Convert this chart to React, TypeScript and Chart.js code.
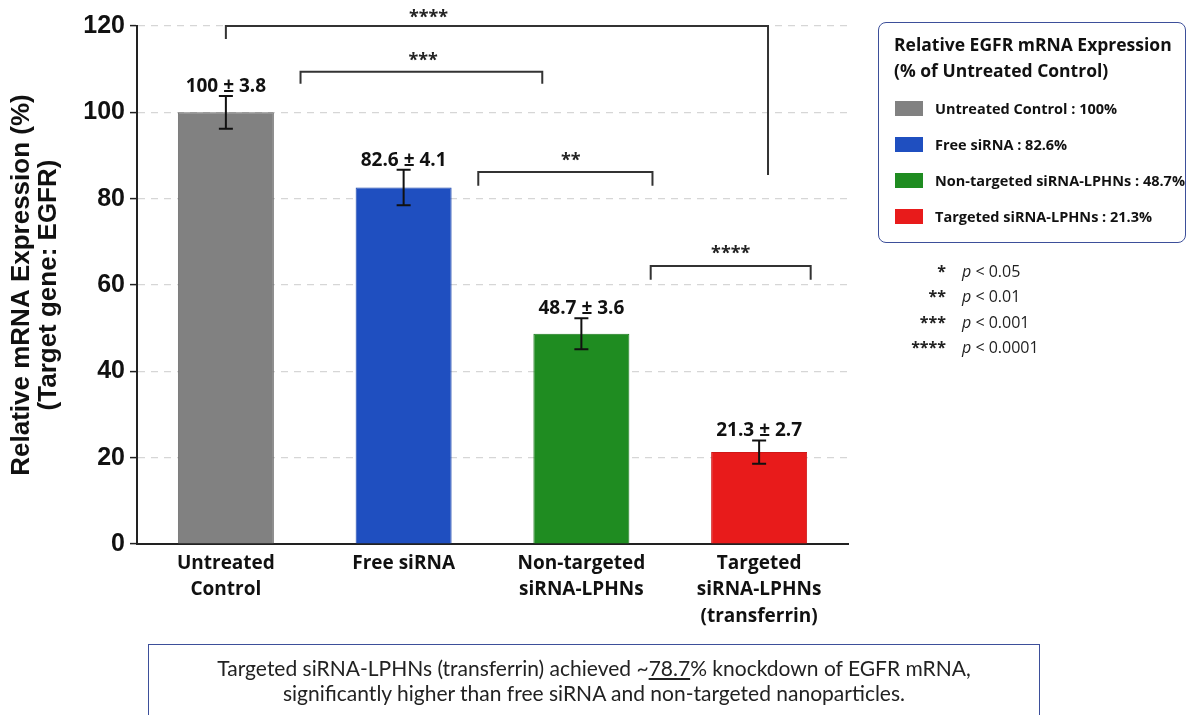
import React, { useEffect, useRef } from "react";
import { Chart, registerables } from "chart.js";

Chart.register(...registerables);

// ---------- data ----------
const categories: string[][] = [
  ["Untreated", "Control"],
  ["Free siRNA"],
  ["Non-targeted", "siRNA-LPHNs"],
  ["Targeted", "siRNA-LPHNs", "(transferrin)"],
];
const meanValues = [100, 82.6, 48.7, 21.3];
const errorValues = [3.8, 4.1, 3.6, 2.7];
const valueLabels = ["100 ± 3.8", "82.6 ± 4.1", "48.7 ± 3.6", "21.3 ± 2.7"];
const barColors = ["#818181", "#1f4fc0", "#1f8c21", "#e81b1b"];
const barBorders = ["#6b6b6b", "#1b45ab", "#1a7a1c", "#cf1717"];
const yMin = 0;
const yMax = 120;
const yStep = 20;
const yTitle = ["Relative mRNA Expression (%)", "(Target gene: EGFR)"];

const legendTitle = ["Relative EGFR mRNA Expression", "(% of Untreated Control)"];
const legendItems = [
  "Untreated Control : 100%",
  "Free siRNA : 82.6%",
  "Non-targeted siRNA-LPHNs : 48.7%",
  "Targeted siRNA-LPHNs : 21.3%",
];
const sigStars = ["*", "**", "***", "****"];
const sigThresholds = ["< 0.05", "< 0.01", "< 0.001", "< 0.0001"];

// significance brackets (x in category index units, y in data units)
const bracketFrom = [0, 0.42, 1.42, 2.39];
const bracketTo = [3.05, 1.78, 2.4, 3.29];
const bracketLevel = [120, 109.4, 86.2, 64.4];
const bracketLeftEnd = [117, 106.6, 83.0, 61.2];
const bracketRightEnd = [85.5, 106.6, 83.0, 61.2];
const bracketStars = ["****", "***", "**", "****"];
const bracketStarX = [1.14, 1.11, 1.94, 2.84];
const bracketStarY = [122.8, 112.8, 89.6, 68.1];

const footLine1a = "Targeted siRNA-LPHNs (transferrin) achieved ~";
const footUnder = "78.7";
const footLine1b = "% knockdown of EGFR mRNA,";
const footLine2 = "significantly higher than free siRNA and non-targeted nanoparticles.";

const W = 1192;
const H = 715;

const overlayPlugin = {
  id: "overlay",
  afterDatasetsDraw(chart: any) {
    const ctx = chart.ctx;
    const x = chart.scales.x;
    const y = chart.scales.y;
    ctx.save();
    // error bars + value labels
    meanValues.forEach((m, i) => {
      const cx = x.getPixelForValue(i);
      const top = y.getPixelForValue(m + errorValues[i]);
      const bot = y.getPixelForValue(m - errorValues[i]);
      ctx.strokeStyle = "#111";
      ctx.lineWidth = 2;
      ctx.beginPath();
      ctx.moveTo(cx, top);
      ctx.lineTo(cx, bot);
      ctx.moveTo(cx - 7, top);
      ctx.lineTo(cx + 7, top);
      ctx.moveTo(cx - 7, bot);
      ctx.lineTo(cx + 7, bot);
      ctx.stroke();
      ctx.fillStyle = "#111";
      ctx.font = "bold 19px 'Open Sans'";
      ctx.textAlign = "center";
      ctx.textBaseline = "alphabetic";
      ctx.fillText(valueLabels[i], cx, top - 4);
    });
    // brackets
    ctx.strokeStyle = "#333";
    ctx.lineWidth = 2;
    bracketFrom.forEach((f, i) => {
      const x1 = x.getPixelForValue(f);
      const x2 = x.getPixelForValue(bracketTo[i]);
      const yl = y.getPixelForValue(bracketLevel[i]);
      const yle = y.getPixelForValue(bracketLeftEnd[i]);
      const yre = y.getPixelForValue(bracketRightEnd[i]);
      ctx.beginPath();
      ctx.moveTo(x1, yle);
      ctx.lineTo(x1, yl);
      ctx.lineTo(x2, yl);
      ctx.lineTo(x2, yre);
      ctx.stroke();
      ctx.fillStyle = "#222";
      ctx.font = "bold 18px 'Open Sans'";
      ctx.textAlign = "center";
      ctx.textBaseline = "middle";
      ctx.fillText(
        bracketStars[i],
        x.getPixelForValue(bracketStarX[i]),
        y.getPixelForValue(bracketStarY[i]) + 4
      );
    });
    ctx.restore();
  },
};

function ChartCanvas() {
  const ref = useRef<HTMLCanvasElement | null>(null);
  useEffect(() => {
    if (!ref.current) return;
    const chart = new Chart(ref.current, {
      type: "bar",
      data: {
        labels: categories as any,
        datasets: [
          {
            data: meanValues,
            backgroundColor: barColors,
            borderColor: barBorders,
            borderWidth: 1,
            categoryPercentage: 1,
            barPercentage: 0.54,
          },
        ],
      },
      options: {
        responsive: false,
        animation: false,
        devicePixelRatio: 1,
        layout: { padding: { left: 0, top: 26, right: W - 848, bottom: 61 } },
        plugins: {
          legend: { display: false },
          tooltip: { enabled: false },
        },
        scales: {
          x: {
            grid: { display: false, drawTicks: false },
            border: { color: "#222", width: 2 },
            ticks: {
              color: "#111",
              font: { family: "'Open Sans'", size: 19, weight: "bold", lineHeight: 1.4 },
              padding: 6,
              maxRotation: 0,
              autoSkip: false,
            },
            afterFit: (s: any) => {
              s.height = 110;
            },
          },
          y: {
            min: yMin,
            max: yMax,
            ticks: {
              stepSize: yStep,
              color: "#111",
              font: { family: "'Liberation Sans'", size: 25, weight: "bold" },
              padding: 5,
            },
            grid: {
              color: "#d6d6d6",
              lineWidth: 1.2,
              tickColor: "#222",
              tickLength: 7,
              tickWidth: 1.5,
            },
            border: { color: "#222", width: 2, dash: [7, 6] },
            title: {
              display: true,
              text: yTitle,
              color: "#111",
              font: { family: "'Liberation Sans'", size: 26, weight: "bold", lineHeight: 1.05 },
              padding: { top: 8, bottom: 0 },
            },
            afterFit: (s: any) => {
              s.width = 137;
            },
          },
        },
      },
      plugins: [overlayPlugin],
    });
    return () => chart.destroy();
  }, []);
  return (
    <canvas
      ref={ref}
      width={W}
      height={H}
      style={{ position: "absolute", left: 0, top: 0, width: W, height: H }}
    />
  );
}

export default function App() {
  const sans = "'Open Sans', 'Noto Sans', sans-serif";
  return (
    <div
      style={{
        position: "absolute",
        left: 0,
        top: 0,
        width: W,
        height: H,
        overflow: "hidden",
        background: "#fff",
        fontFamily: sans,
      }}
    >
      <ChartCanvas />
      {/* legend box */}
      <div
        style={{
          position: "absolute",
          left: 878,
          top: 22,
          width: 308,
          height: 221,
          boxSizing: "border-box",
          border: "1.5px solid #3d4f9a",
          borderRadius: 8,
          color: "#111",
        }}
      >
        <div
          style={{
            position: "absolute",
            left: 15,
            top: 8,
            fontWeight: 700,
            fontSize: 17.5,
            lineHeight: "26px",
            whiteSpace: "nowrap",
          }}
        >
          {legendTitle.map((t) => (
            <div key={t}>{t}</div>
          ))}
        </div>
        {legendItems.map((t, i) => (
          <div
            key={t}
            style={{
              position: "absolute",
              left: 16,
              top: 76 + i * 36,
              height: 18,
              display: "flex",
              alignItems: "center",
              whiteSpace: "nowrap",
            }}
          >
            <span
              style={{
                display: "inline-block",
                width: 28,
                height: 15,
                background: barColors[i],
                marginRight: 12,
              }}
            />
            <span style={{ fontWeight: 700, fontSize: 14.5 }}>{t}</span>
          </div>
        ))}
      </div>
      {/* significance key */}
      {sigStars.map((s, i) => (
        <div
          key={s}
          style={{
            position: "absolute",
            left: 880,
            top: 260 + i * 25.3,
            height: 22,
            width: 220,
            display: "flex",
            alignItems: "center",
            fontSize: 16,
            color: "#222",
            whiteSpace: "nowrap",
          }}
        >
          <span style={{ width: 66, textAlign: "right", fontWeight: 700, fontSize: 16 }}>{s}</span>
          <span style={{ marginLeft: 16 }}>
            <i>p</i> {sigThresholds[i]}
          </span>
        </div>
      ))}
      {/* footnote box */}
      <div
        style={{
          position: "absolute",
          left: 148,
          top: 644,
          width: 892,
          height: 90,
          boxSizing: "border-box",
          border: "1.5px solid #3d4f9a",
          textAlign: "center",
          fontFamily: "Lato, 'Open Sans', sans-serif",
          fontSize: 21,
          lineHeight: "25px",
          paddingTop: 10,
          color: "#222",
        }}
      >
        <div>
          {footLine1a}
          <span style={{ textDecoration: "underline" }}>{footUnder}</span>
          {footLine1b}
        </div>
        <div>{footLine2}</div>
      </div>
    </div>
  );
}
